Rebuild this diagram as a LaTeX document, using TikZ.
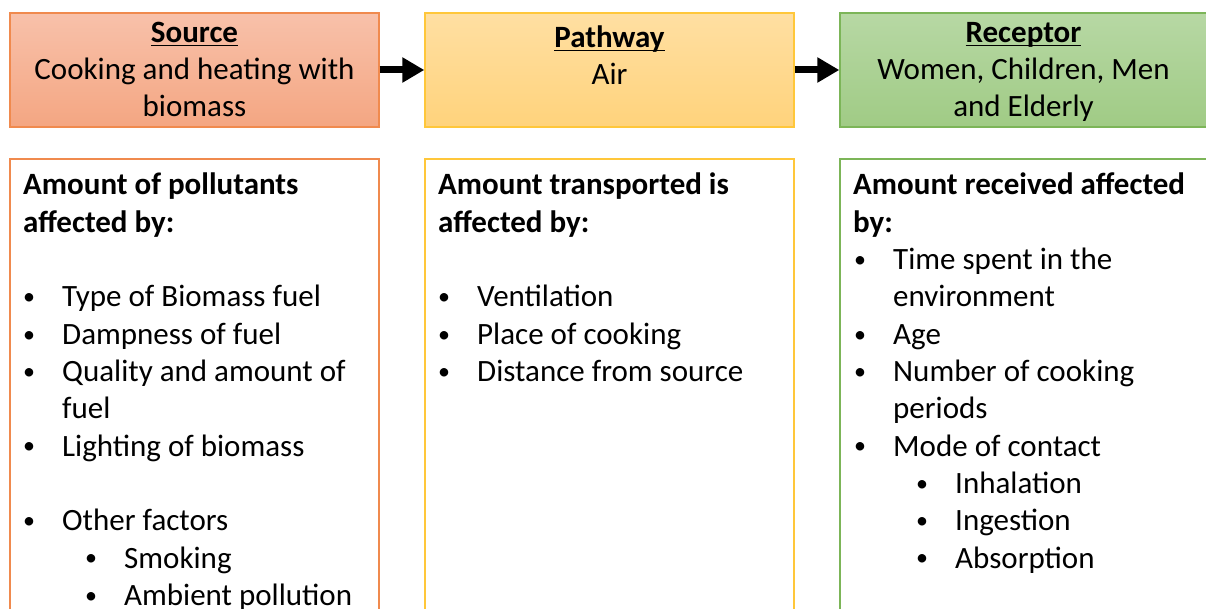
\documentclass[tikz,border=0pt]{standalone}
\usepackage{fontspec}
\setmainfont{Carlito}
\usetikzlibrary{arrows.meta}

\definecolor{srcTop}{RGB}{248,193,170}
\definecolor{srcBot}{RGB}{244,166,130}
\definecolor{srcLine}{RGB}{240,138,78}
\definecolor{pwTop}{RGB}{255,223,162}
\definecolor{pwBot}{RGB}{255,211,124}
\definecolor{pwLine}{RGB}{255,199,58}
\definecolor{rcTop}{RGB}{183,216,164}
\definecolor{rcBot}{RGB}{160,203,133}
\definecolor{rcLine}{RGB}{124,181,88}

% underlined heading word
\newcommand\headul[1]{\setbox0\hbox{#1}\rlap{\rule[-3.5pt]{\wd0}{1.6pt}}\box0}

\tikzset{
  base/.style={inner sep=0pt, font=\fontsize{31}{37}\selectfont},
  txt/.style={base, anchor=base west},
  ctxt/.style={base, anchor=base},
  hd/.style={txt, font=\fontsize{31}{37}\selectfont\bfseries},
  dot/.style={inner sep=0pt, anchor=base, font=\fontsize{24}{28}\selectfont, yshift=2.2pt},
  topbox/.style={rectangle, line width=1.4pt, minimum width=369pt, minimum height=114pt, inner sep=0pt},
  infobox/.style={rectangle, line width=1.8pt, fill=white, minimum width=369pt, minimum height=491pt, inner sep=0pt},
  flow/.style={line width=7pt, -{Triangle[length=22pt,width=24pt]}}
}

\begin{document}
\begin{tikzpicture}[x=1pt,y=-1pt]
\useasboundingbox (0,0) rectangle (1206,609);
\clip (0,0) rectangle (1206,609);
\fill[white] (0,0) rectangle (1206,609);

% source / pathway / receptor boxes
\node[topbox, top color=srcTop, bottom color=srcBot, draw=srcLine] (src) at (194.5,70) {};
\node[topbox, top color=pwTop, bottom color=pwBot, draw=pwLine] (pw) at (609.5,70) {};
\node[topbox, top color=rcTop, bottom color=rcBot, draw=rcLine] (rc) at (1024.5,70) {};

\node[ctxt] (srct) at (194.5,43) {\bfseries\headul{Source}};
\node[ctxt] (srcl1) at (194.5,80) {Cooking and heating with};
\node[ctxt] (srcl2) at (194.5,117) {biomass};

\node[ctxt] (pwt) at (609.5,48) {\bfseries\headul{Pathway}};
\node[ctxt] (pwl1) at (609.5,85) {Air};

\node[ctxt] (rct) at (1023.5,43) {\bfseries\headul{Receptor}};
\node[ctxt] (rcl1) at (1023.5,80) {Women, Children, Men};
\node[ctxt] (rcl2) at (1023.5,117) {and Elderly};

% arrows between the stages
\draw[flow] (src.east) -- (pw.west);
\draw[flow] (pw.east) -- (rc.west);

% detail boxes
\node[infobox, draw=srcLine] (srcinfo) at (194.5,404.5) {};
\node[infobox, draw=pwLine] (pwinfo) at (609.5,404.5) {};
\node[infobox, draw=rcLine] (rcinfo) at (1024.5,404.5) {};

% source details
\node[hd] (sh1) at (23,195) {Amount of pollutants};
\node[hd] (sh2) at (23,{195+37.3*1}) {affected by:};
\node[dot] (sb1) at (29,{195+37.3*3}) {•};
\node[txt] (st1) at (62,{195+37.3*3}) {Type of Biomass fuel};
\node[dot] (sb2) at (29,{195+37.3*4}) {•};
\node[txt] (st2) at (62,{195+37.3*4}) {Dampness of fuel};
\node[dot] (sb3) at (29,{195+37.3*5}) {•};
\node[txt] (st3) at (62,{195+37.3*5}) {Quality and amount of};
\node[txt] (st3b) at (62,{195+37.3*6}) {fuel};
\node[dot] (sb4) at (29,{195+37.3*7}) {•};
\node[txt] (st4) at (62,{195+37.3*7}) {Lighting of biomass};
\node[dot] (sb5) at (29,{195+37.3*9}) {•};
\node[txt] (st5) at (62,{195+37.3*9}) {Other factors};
\node[dot] (sb6) at (91,{195+37.3*10}) {•};
\node[txt] (st6) at (124,{195+37.3*10}) {Smoking};
\node[dot] (sb7) at (91,{195+37.3*11}) {•};
\node[txt] (st7) at (124,{195+37.3*11}) {Ambient pollution};

% pathway details
\node[hd] (ph1) at (438,195) {Amount transported is};
\node[hd] (ph2) at (438,{195+37.3*1}) {affected by:};
\node[dot] (pb1) at (444,{195+37.3*3}) {•};
\node[txt] (pt1) at (477,{195+37.3*3}) {Ventilation};
\node[dot] (pb2) at (444,{195+37.3*4}) {•};
\node[txt] (pt2) at (477,{195+37.3*4}) {Place of cooking};
\node[dot] (pb3) at (444,{195+37.3*5}) {•};
\node[txt] (pt3) at (477,{195+37.3*5}) {Distance from source};

% receptor details
\node[hd] (rh1) at (853,195) {Amount received affected};
\node[hd] (rh2) at (853,{195+37.3*1}) {by:};
\node[dot] (rb1) at (860,{195+37.3*2}) {•};
\node[txt] (rt1) at (893,{195+37.3*2}) {Time spent in the};
\node[txt] (rt1b) at (893,{195+37.3*3}) {environment};
\node[dot] (rb2) at (860,{195+37.3*4}) {•};
\node[txt] (rt2) at (893,{195+37.3*4}) {Age};
\node[dot] (rb3) at (860,{195+37.3*5}) {•};
\node[txt] (rt3) at (893,{195+37.3*5}) {Number of cooking};
\node[txt] (rt3b) at (893,{195+37.3*6}) {periods};
\node[dot] (rb4) at (860,{195+37.3*7}) {•};
\node[txt] (rt4) at (893,{195+37.3*7}) {Mode of contact};
\node[dot] (rb5) at (922,{195+37.3*8}) {•};
\node[txt] (rt5) at (955,{195+37.3*8}) {Inhalation};
\node[dot] (rb6) at (922,{195+37.3*9}) {•};
\node[txt] (rt6) at (955,{195+37.3*9}) {Ingestion};
\node[dot] (rb7) at (922,{195+37.3*10}) {•};
\node[txt] (rt7) at (955,{195+37.3*10}) {Absorption};
\end{tikzpicture}
\end{document}
